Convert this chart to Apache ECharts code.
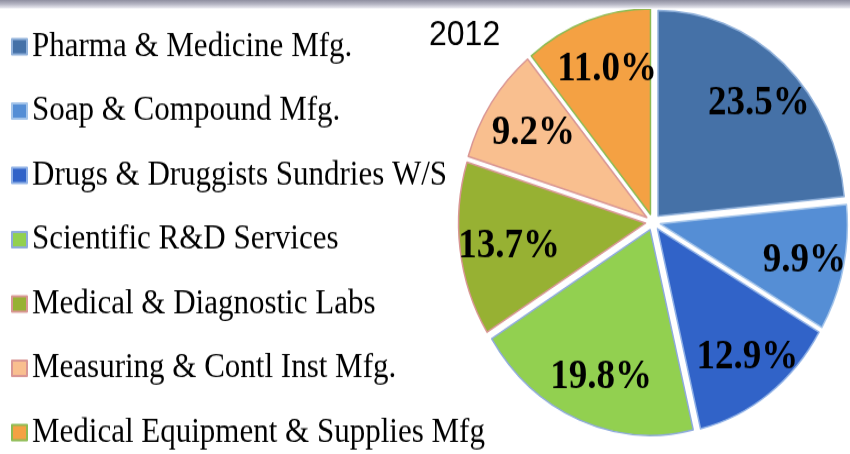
<!DOCTYPE html>
<html>
<head>
<meta charset="utf-8">
<script src="https://cdn.jsdelivr.net/npm/echarts@6/dist/echarts.min.js"></script>
<style>
  html, body { margin: 0; padding: 0; background: #fff; overflow: hidden; }
  #wrap { position: relative; width: 850px; height: 454px; overflow: hidden; }
  #band {
    position: absolute; left: 0; top: 0; width: 850px; height: 9px; z-index: 2;
    background: linear-gradient(to bottom, #8f8fa0 0%, #b4b4c2 45%, #e2e2ea 85%, #ffffff 100%);
  }
  /* chart is laid out at 413px tall and stretched to fill the 454px frame */
  #chart {
    position: absolute; left: 0; top: 0; width: 850px; height: 413px;
    transform: scaleY(1.0993); transform-origin: 0 0;
  }
</style>
</head>
<body>
<div id="wrap">
  <div id="band"></div>
  <div id="chart"></div>
</div>
<script>
// Share of establishments by industry, 2012 (percent)
const categories = [
  'Pharma & Medicine Mfg.',
  'Soap & Compound Mfg.',
  'Drugs & Druggists Sundries W/S',
  'Scientific R&D Services',
  'Medical & Diagnostic Labs',
  'Measuring & Contl Inst Mfg.',
  'Medical Equipment & Supplies Mfg'
];
const shares = [23.5, 9.9, 12.9, 19.8, 13.7, 9.2, 11.0];
const chartTitle = '2012';

const fillColors = ['#4571a7', '#558ed5', '#3163c8', '#92d050', '#97b133', '#f9bf8f', '#f4a143'];
const edgeColors = ['#8fb0da', '#a3c4ea', '#8eb0e6', '#8eaadc', '#d99694', '#d99694', '#8dbb52'];

const serif = '"Liberation Serif", "Times New Roman", serif';
const sans = '"Liberation Sans", Arial, sans-serif';

const slices = categories.map((name, i) => {
  const style = { color: fillColors[i], borderColor: edgeColors[i], borderWidth: 1.5 };
  return { name, value: shares[i], selected: true, itemStyle: style, select: { itemStyle: style } };
});

// Transparent twin ring that only carries the value labels further out along each slice
const labelCarriers = categories.map((name, i) => {
  const clear = { color: 'rgba(0,0,0,0)', borderWidth: 0 };
  return { name, value: shares[i], selected: true, itemStyle: clear, select: { itemStyle: clear } };
});

const pieCenter = [653, 202];
const pieRadius = 187;
const explode = 7.5;

const chart = echarts.init(document.getElementById('chart'), null, { renderer: 'canvas' });
chart.setOption({
  animation: false,
  backgroundColor: 'transparent',
  title: {
    text: chartTitle,
    left: 429,
    top: 16,
    padding: 0,
    textStyle: { fontFamily: sans, fontSize: 32, fontWeight: 'normal', color: '#000', lineHeight: 32 }
  },
  legend: {
    orient: 'vertical',
    left: 11,
    top: 27,
    padding: 0,
    itemGap: 27.5,
    itemWidth: 15,
    itemHeight: 14,
    icon: 'rect',
    selectedMode: false,
    data: categories,
    textStyle: { fontFamily: serif, fontSize: 31, color: '#000', lineHeight: 31 }
  },
  series: [
    {
      name: 'slices',
      type: 'pie',
      center: pieCenter,
      radius: pieRadius,
      startAngle: 90,
      clockwise: true,
      selectedMode: 'multiple',
      selectedOffset: explode,
      avoidLabelOverlap: false,
      silent: true,
      emphasis: { disabled: true },
      label: { show: false },
      labelLine: { show: false },
      data: slices
    },
    {
      name: 'values',
      type: 'pie',
      center: pieCenter,
      radius: [92, pieRadius],
      startAngle: 90,
      clockwise: true,
      selectedMode: 'multiple',
      selectedOffset: explode,
      avoidLabelOverlap: false,
      silent: true,
      legendHoverLink: false,
      emphasis: { disabled: true },
      labelLine: { show: false },
      labelLayout: { dx: 5, dy: 3 },
      label: {
        show: true,
        position: 'inside',
        formatter: p => p.value.toFixed(1) + '%',
        fontFamily: serif,
        fontSize: 37,
        fontWeight: 'bold',
        color: '#000',
        textBorderWidth: 0
      },
      data: labelCarriers
    }
  ]
});
</script>
</body>
</html>
